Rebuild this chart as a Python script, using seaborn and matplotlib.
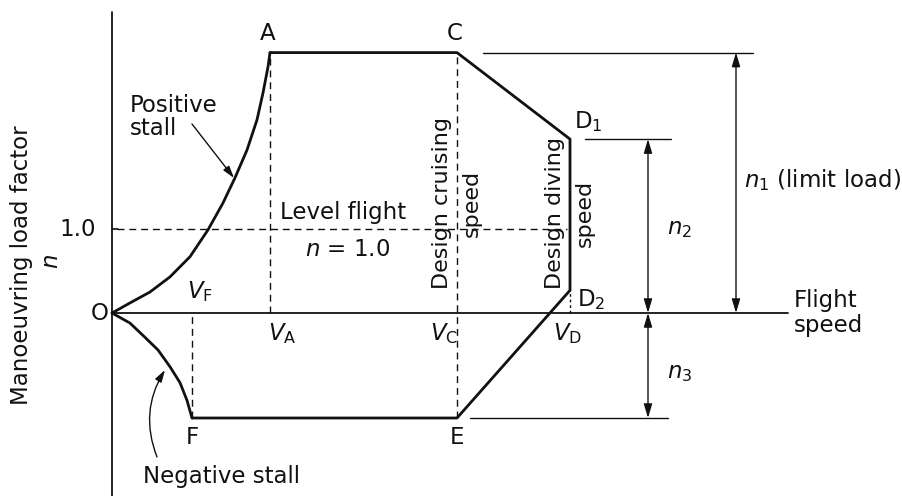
import matplotlib
matplotlib.use("Agg")
import matplotlib.pyplot as plt
import pandas as pd
import seaborn as sns

# V-n diagram values (speed in arbitrary units, n = load factor)
V_F, V_A, V_C, V_D = 0.80, 1.58, 3.45, 4.58
n_1, n_D1, n_D2, n_3 = 3.10, 2.07, 0.27, -1.25

pos_stall_v = [0.0, 0.18, 0.38, 0.58, 0.78, 0.96, 1.11, 1.23, 1.35, 1.45, 1.51, 1.56, 1.58]
pos_stall_n = [0.0, 0.12, 0.25, 0.43, 0.67, 0.99, 1.31, 1.61, 1.94, 2.30, 2.62, 2.93, 3.10]
neg_stall_v = [0.0, 0.18, 0.33, 0.46, 0.58, 0.68, 0.75, 0.80]
neg_stall_n = [0.0, -0.12, -0.29, -0.44, -0.64, -0.83, -1.04, -1.25]

# envelope A - C - D1 - D2 - E - F
env_v = [V_A, V_C, V_D, V_D, V_C, V_F]
env_n = [n_1, n_1, n_D1, n_D2, n_3, n_3]

V_max = 6.76      # end of speed axis
n_top = 3.58      # top of n axis
n_bot = -183 / 84


def px(x, y):
    # pixel position in the picture -> data coordinates (for text placement)
    return (x - 112) / 100, (313 - y) / 84


sns.set_style("white")
plt.rcParams["font.family"] = ["DejaVu Sans"]
plt.rcParams["mathtext.fontset"] = "dejavusans"

fig = plt.figure(figsize=(9.03, 4.96), dpi=100)
ax = fig.add_axes([0, 0, 1, 1])
ax.set_xlim(-1.12, 7.91)
ax.set_ylim(n_bot, 313 / 84)
ax.axis("off")

black = "#111111"
line_kw = dict(sort=False, estimator=None, errorbar=None, color=black, ax=ax)

# axes of the diagram
ax.plot([0, 0], [n_bot, n_top], color=black, lw=1.3)
ax.plot([0, V_max], [0, 0], color=black, lw=1.3)
ax.plot([0, 0.06], [1, 1], color=black, lw=1.2)

# stall curves and envelope
stall = pd.DataFrame({"v": pos_stall_v, "n": pos_stall_n})
sns.lineplot(data=stall, x="v", y="n", lw=2.0, solid_joinstyle="round", **line_kw)
stall_neg = pd.DataFrame({"v": neg_stall_v, "n": neg_stall_n})
sns.lineplot(data=stall_neg, x="v", y="n", lw=2.0, solid_joinstyle="round", **line_kw)
env = pd.DataFrame({"v": env_v, "n": env_n})
sns.lineplot(data=env, x="v", y="n", lw=2.0, **line_kw)

# dashed guides
dash = dict(color=black, lw=1.0, ls=(0, (5, 3.5)))
ax.plot([0.05, V_D - 0.03], [1, 1], **dash)
ax.plot([V_A, V_A], [0, n_1], **dash)
ax.plot([V_F, V_F], [n_3, 0], **dash)
ax.plot([V_C, V_C], [n_3, n_1], **dash)
ax.plot([V_D, V_D], [0, n_D2], color=black, lw=1.0, ls=(0, (2, 2)))

# dimension lines
thin = dict(color=black, lw=1.0)
ax.plot([3.71, 6.41], [n_1, n_1], **thin)
ax.plot([4.73, 5.59], [n_D1, n_D1], **thin)
ax.plot([3.58, 5.56], [n_3, n_3], **thin)

arr = dict(arrowstyle="<|-|>,head_length=0.6,head_width=0.18", color=black, lw=1.0,
           shrinkA=0, shrinkB=0, mutation_scale=14)
ax.annotate("", xy=(6.24, n_1), xytext=(6.24, 0), arrowprops=arr)
ax.annotate("", xy=(5.36, n_D1), xytext=(5.36, 0), arrowprops=arr)
ax.annotate("", xy=(5.36, 0), xytext=(5.36, n_3), arrowprops=arr)

fs = 16.5
txt = dict(fontsize=fs, color=black)
off = dict(textcoords="offset pixels", va="center")

# point labels
ax.annotate("A", (V_A, n_1), xytext=(-2, 19), ha="center", **off, **txt)
ax.annotate("C", (V_C, n_1), xytext=(-2, 19), ha="center", **off, **txt)
ax.annotate("D$_1$", (V_D, n_D1), xytext=(4, 18), ha="left", **off, **txt)
ax.annotate("D$_2$", (V_D, n_D2), xytext=(7, -9), ha="left", **off, **txt)
ax.annotate("E", (V_C, n_3), xytext=(0, -20), ha="center", **off, **txt)
ax.annotate("F", (V_F, n_3), xytext=(0, -20), ha="center", **off, **txt)
ax.annotate("O", (0, 0), xytext=(-12, 0), ha="center", **off, **txt)
ax.annotate("1.0", (0, 1), xytext=(-16, 0), ha="right", **off, **txt)

ax.annotate(r"$V_\mathrm{F}$", (V_F, 0), xytext=(8, 21), ha="center", **off, **txt)
ax.annotate(r"$V_\mathrm{A}$", (V_A, 0), xytext=(12, -21), ha="center", **off, **txt)
ax.annotate(r"$V_\mathrm{C}$", (V_C, 0), xytext=(-13, -21), ha="center", **off, **txt)
ax.annotate(r"$V_\mathrm{D}$", (V_D, 0), xytext=(-2, -21), ha="center", **off, **txt)

# descriptive texts
ax.text(*px(280, 212), "Level flight", ha="left", va="center", **txt)
ax.text(*px(348, 250), r"$n$ = 1.0", ha="center", va="center", **txt)
ax.text(*px(457, 203), "Design cruising\nspeed", rotation=90, ha="center", va="center",
        multialignment="center", linespacing=1.65, fontsize=16, color=black)
ax.text(*px(570, 213), "Design diving\nspeed", rotation=90, ha="center", va="center",
        multialignment="center", linespacing=1.65, fontsize=16, color=black)
ax.text(*px(744, 180), r"$n_1$ (limit load)", ha="left", va="center", **txt)
ax.text(*px(667, 228), r"$n_2$", ha="left", va="center", **txt)
ax.text(*px(667, 372), r"$n_3$", ha="left", va="center", **txt)
ax.text(*px(794, 313), "Flight\nspeed", ha="left", va="center", linespacing=1.15, **txt)

ax.text(*px(22, 265), "Manoeuvring load factor", rotation=90, ha="center", va="center", **txt)
ax.text(*px(52, 262), r"$n$", rotation=90, ha="center", va="center", **txt)

ax.text(*px(130, 117), "Positive\nstall", ha="left", va="center", linespacing=1.05, **txt)
ax.annotate("", xy=px(234, 178), xytext=px(192, 124),
            arrowprops=dict(arrowstyle="-|>,head_length=0.6,head_width=0.18", color=black,
                            lw=1.0, shrinkA=0, shrinkB=0, mutation_scale=12))
ax.text(*px(143, 476), "Negative stall", ha="left", va="center", **txt)
ax.annotate("", xy=px(165, 370), xytext=px(157, 457),
            arrowprops=dict(arrowstyle="-|>,head_length=0.6,head_width=0.18", color=black,
                            lw=1.0, shrinkA=0, shrinkB=0, mutation_scale=12,
                            connectionstyle="arc3,rad=-0.25"))

fig.savefig("out.png", dpi=100)
